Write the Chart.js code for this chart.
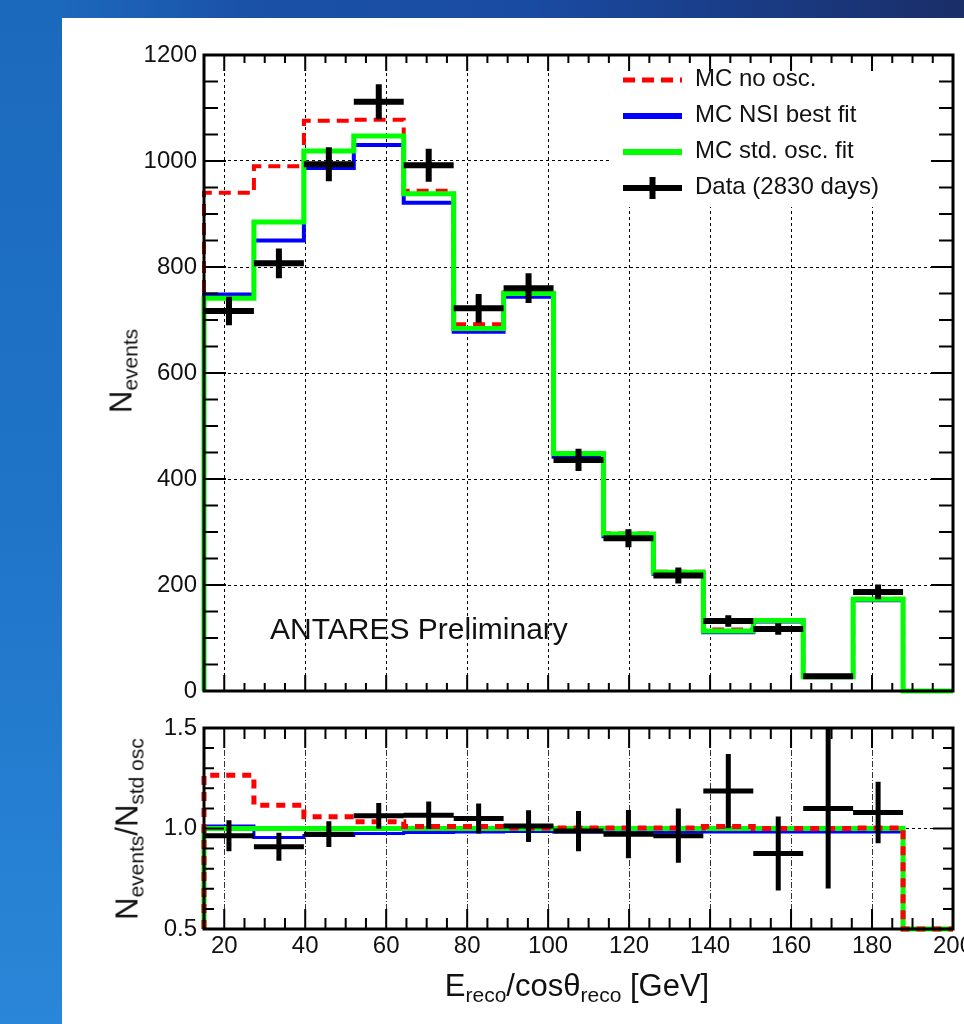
<!DOCTYPE html>
<html lang="en">
<head>
<meta charset="UTF-8">
<title>ANTARES - NSI fit</title>
<script src="https://cdn.jsdelivr.net/npm/chart.js"></script>
<style>
  html, body { margin: 0; padding: 0; }
  body {
    width: 964px; height: 1024px; overflow: hidden; position: relative;
    background: linear-gradient(90deg, #1d70c3 0%, #1a52a8 25%, #1a4ba2 55%, #1a3a82 80%, #1a2e68 100%);
    font-family: "Liberation Sans", Arial, sans-serif;
  }
  #strip { position: absolute; left: 0; top: 0; width: 62px; height: 1024px;
           background: linear-gradient(180deg, #1b69bd 0%, #1f74c8 50%, #2a86d8 100%); }
  #panel { position: absolute; left: 62px; top: 18px; right: 0; bottom: 0; background: #fff; }
  canvas { position: absolute; left: 62px; }
  #top { top: 18px; }
  #bottom { top: 700px; }
  .title { position: absolute; white-space: nowrap; color: #111; font-size: 31px; line-height: 1;
           transform: translate(-50%, -50%) rotate(-90deg); }
  .title.x { transform: translate(-50%, -50%); font-size: 31px; }
  .title sub { font-size: 21px; vertical-align: -0.3em; line-height: 0; }
</style>
</head>
<body>
<div id="strip"></div>
<div id="panel"></div>
<canvas id="top" width="902" height="682"></canvas>
<canvas id="bottom" width="902" height="324"></canvas>
<div class="title" style="left:121px; top:371px;">N<sub>events</sub></div>
<div class="title" style="left:127px; top:829px;">N<sub>events</sub>/N<sub>std osc</sub></div>
<div class="title x" style="left:577px; top:985px;">E<sub>reco</sub>/cosθ<sub>reco</sub> [GeV]</div>

<script>
// bin edges in E/cos(theta) [GeV]
const binEdges = [15, 27.33, 39.67, 52, 64.33, 76.67, 89, 101.33, 113.67, 126, 138.33, 150.67, 163, 175.33, 187.67, 200];

// upper panel: event counts per bin
const noOsc      = [940, 990, 1076, 1078, 944, 692, 752, 449, 297, 225, 116, 133, 27, 174, 0];
const nsiFit     = [748, 850, 987, 1030, 921, 678, 744, 442, 292, 221, 111, 131, 27, 171, 0];
const stdFit     = [741, 885, 1019, 1047, 938, 684, 750, 448, 296, 224, 113, 133, 27, 173, 0];
const dataCounts = [717, 807, 994, 1112, 992, 722, 760, 436, 288, 218, 132, 117, 28, 187];
const dataErrors = [27, 28, 32, 33, 31, 27, 28, 21, 17, 15, 11, 11, 5, 14];

// lower panel: ratio to std. osc. fit
const ratioNoOsc  = [1.265, 1.116, 1.058, 1.033, 1.010, 1.010, 1.003, 1.003, 1.003, 1.003, 1.010, 1.000, 1.000, 1.003, 0];
const ratioNsi    = [1.012, 0.955, 0.965, 0.975, 0.980, 0.983, 0.985, 0.983, 0.983, 0.983, 0.983, 0.983, 0.983, 0.983, 0];
const ratioStd    = [1, 1, 1, 1, 1, 1, 1, 1, 1, 1, 1, 1, 1, 1, 0];
const ratioData   = [0.964, 0.909, 0.972, 1.063, 1.066, 1.050, 1.012, 0.987, 0.972, 0.964, 1.186, 0.876, 1.100, 1.080];
const ratioErrors = [0.077, 0.070, 0.064, 0.064, 0.068, 0.075, 0.079, 0.100, 0.120, 0.135, 0.185, 0.184, 0.398, 0.153];

const xTicks = [20, 40, 60, 80, 100, 120, 140, 160, 180, 200];
const legendLabels = ['MC no osc.', 'MC NSI best fit', 'MC std. osc. fit', 'Data (2830 days)'];

Chart.defaults.font.family = '"Liberation Sans", Arial, sans-serif';
Chart.defaults.color = '#111';

// histogram outline like ROOT draws it (starts and ends on the axis floor)
function stepPoints(values, floor) {
  const pts = [{x: binEdges[0], y: floor}];
  values.forEach((v, i) => {
    const y = Math.max(v, floor);
    pts.push({x: binEdges[i], y: y}, {x: binEdges[i + 1], y: y});
  });
  return pts;
}

// data points: horizontal bin bar + vertical error bar
function crossPoints(values, errors) {
  const pts = [];
  values.forEach((v, i) => {
    const lo = binEdges[i], hi = binEdges[i + 1], c = (lo + hi) / 2;
    pts.push({x: lo, y: v}, {x: hi, y: v}, {x: hi, y: null});
    pts.push({x: c, y: v - errors[i]}, {x: c, y: v + errors[i]}, {x: c, y: null});
  });
  return pts;
}

function lineSet(label, data, color, width, order, dash) {
  return {
    label: label, data: data, borderColor: color, borderWidth: width,
    borderDash: dash || [], pointRadius: 0, tension: 0, fill: false,
    spanGaps: false, order: order, borderCapStyle: 'butt'
  };
}

// histogram lines may sit on the frame, so let them spill a little
function histSet(label, data, color, width, order, dash) {
  const ds = lineSet(label, data, color, width, order, dash);
  ds.clip = 3;
  return ds;
}

// keep the plot frame at a fixed place, whatever the labels need
function fixWidth(w) {
  return s => { s.width = w; s.paddingTop = 0; s.paddingBottom = 0; };
}
function fixHeight(h) {
  return s => { s.height = h; s.paddingLeft = 0; s.paddingRight = 0; };
}

// frame + inside ticks on all four sides
const rootFrame = {
  id: 'rootFrame',
  beforeDatasetsDraw(chart, args, o) {
    if (!o.legendBox) return;
    const b = o.legendBox;
    chart.ctx.save();
    chart.ctx.fillStyle = '#fff';
    chart.ctx.fillRect(b[0], b[1], b[2], b[3]);
    chart.ctx.restore();
  },
  afterDatasetsDraw(chart, args, o) {
    const {ctx, chartArea: a, scales: {x, y}} = chart;
    ctx.save();
    ctx.strokeStyle = '#000';
    ctx.lineWidth = 2;
    ctx.beginPath();
    const isMajor = (v, m) => Math.abs(v / m - Math.round(v / m)) < 1e-6;
    for (let k = Math.ceil(x.min / o.xMinor); k * o.xMinor <= x.max + 1e-9; k++) {
      const v = k * o.xMinor, px = x.getPixelForValue(v);
      const len = isMajor(v, o.xMajor) ? o.xLen[0] : o.xLen[1];
      ctx.moveTo(px, a.bottom); ctx.lineTo(px, a.bottom - len);
      ctx.moveTo(px, a.top); ctx.lineTo(px, a.top + len);
    }
    for (let k = Math.ceil(y.min / o.yMinor - 1e-9); k * o.yMinor <= y.max + 1e-9; k++) {
      const v = k * o.yMinor, py = y.getPixelForValue(v);
      const len = isMajor(v, o.yMajor) ? o.yLen[0] : o.yLen[1];
      ctx.moveTo(a.left, py); ctx.lineTo(a.left + len, py);
      ctx.moveTo(a.right, py); ctx.lineTo(a.right - len, py);
    }
    ctx.stroke();
    ctx.lineWidth = 3;
    ctx.strokeRect(a.left, a.top, a.right - a.left, a.bottom - a.top);
    ctx.restore();
  }
};

// legend inside the pad, plus the "Preliminary" label
const rootLegend = {
  id: 'rootLegend',
  afterDraw(chart, args, o) {
    const ctx = chart.ctx;
    ctx.save();
    ctx.font = '24px "Liberation Sans", Arial, sans-serif';
    ctx.fillStyle = '#111';
    ctx.textBaseline = 'alphabetic';
    chart.data.datasets.forEach((ds, i) => {
      const yRow = o.y0 + i * o.dy;
      ctx.strokeStyle = ds.borderColor;
      ctx.lineWidth = ds.legendWidth || ds.borderWidth;
      ctx.setLineDash(ds.borderDash || []);
      ctx.lineCap = 'butt';
      ctx.beginPath();
      ctx.moveTo(o.x0, yRow); ctx.lineTo(o.x1, yRow);
      if (ds.cross) {
        const xm = (o.x0 + o.x1) / 2;
        ctx.moveTo(xm, yRow - 11); ctx.lineTo(xm, yRow + 11);
      }
      ctx.stroke();
      ctx.setLineDash([]);
      ctx.fillText(ds.label, o.xText, yRow + 6);
    });
    ctx.font = '30px "Liberation Sans", Arial, sans-serif';
    ctx.fillText('ANTARES Preliminary', o.noteX, o.noteY);
    ctx.restore();
  }
};

const gridDotted = {color: '#000', lineWidth: 1, drawTicks: false};

const topData = lineSet(legendLabels[3], crossPoints(dataCounts, dataErrors), '#000', 6, 0);
topData.cross = true;

new Chart(document.getElementById('top'), {
  type: 'line',
  data: {
    datasets: [
      Object.assign(histSet(legendLabels[0], stepPoints(noOsc, 0), '#ff0000', 4, 3, [12, 7]), {legendWidth: 5}),
      Object.assign(histSet(legendLabels[1], stepPoints(nsiFit, 0), '#0000ff', 4, 2), {legendWidth: 6}),
      Object.assign(histSet(legendLabels[2], stepPoints(stdFit, 0), '#00ff00', 5, 1), {legendWidth: 6}),
      topData
    ]
  },
  options: {
    responsive: false,
    animation: false,
    layout: {autoPadding: false, padding: {top: 37, right: 11, left: 0, bottom: 0}},
    plugins: {
      legend: {display: false},
      tooltip: {enabled: false},
      rootFrame: {xMinor: 5, xMajor: 20, yMinor: 50, yMajor: 200, xLen: [16, 8], yLen: [22, 14],
                  legendBox: [548, 39, 341, 150]},
      rootLegend: {x0: 561, x1: 620, xText: 633, y0: 62, dy: 36, noteX: 208, noteY: 621}
    },
    scales: {
      x: {
        type: 'linear', min: 15, max: 200,
        afterBuildTicks: s => { s.ticks = xTicks.map(v => ({value: v})); },
        ticks: {display: false},
        grid: gridDotted,
        border: {display: false, dash: [3, 3]},
        afterFit: fixHeight(9)
      },
      y: {
        min: 0, max: 1200,
        ticks: {stepSize: 200, padding: 7, font: {size: 24}, color: '#111', callback: v => String(v)},
        grid: gridDotted,
        border: {display: false, dash: [3, 3]},
        afterFit: fixWidth(142)
      }
    }
  },
  plugins: [rootFrame, rootLegend]
});

const ratioDataSet = lineSet('Data', crossPoints(ratioData, ratioErrors), '#000', 5, 0);

new Chart(document.getElementById('bottom'), {
  type: 'line',
  data: {
    datasets: [
      histSet('MC NSI best fit', stepPoints(ratioNsi, 0.5), '#0000ff', 3, 3),
      histSet('MC std. osc. fit', stepPoints(ratioStd, 0.5), '#00ff00', 5, 2),
      histSet('MC no osc.', stepPoints(ratioNoOsc, 0.5), '#ff0000', 5, 1, [9, 7]),
      ratioDataSet
    ]
  },
  options: {
    responsive: false,
    animation: false,
    layout: {autoPadding: false, padding: {top: 28, right: 11, left: 0, bottom: 0}},
    plugins: {
      legend: {display: false},
      tooltip: {enabled: false},
      rootFrame: {xMinor: 5, xMajor: 20, yMinor: 0.1, yMajor: 0.5, xLen: [20, 11], yLen: [20, 10]}
    },
    scales: {
      x: {
        type: 'linear', min: 15, max: 200,
        afterBuildTicks: s => { s.ticks = xTicks.map(v => ({value: v})); },
        ticks: {padding: 3, font: {size: 24}, color: '#111', maxRotation: 0, autoSkip: false},
        grid: {color: '#333', lineWidth: 1, drawTicks: false},
        border: {display: false, dash: [6, 2, 1, 2]},
        afterFit: fixHeight(95)
      },
      y: {
        min: 0.5, max: 1.5,
        ticks: {stepSize: 0.5, padding: 7, font: {size: 24}, color: '#111', callback: v => v.toFixed(1)},
        grid: gridDotted,
        border: {display: false, dash: [3, 3]},
        afterFit: fixWidth(142)
      }
    }
  },
  plugins: [rootFrame]
});
</script>
</body>
</html>
